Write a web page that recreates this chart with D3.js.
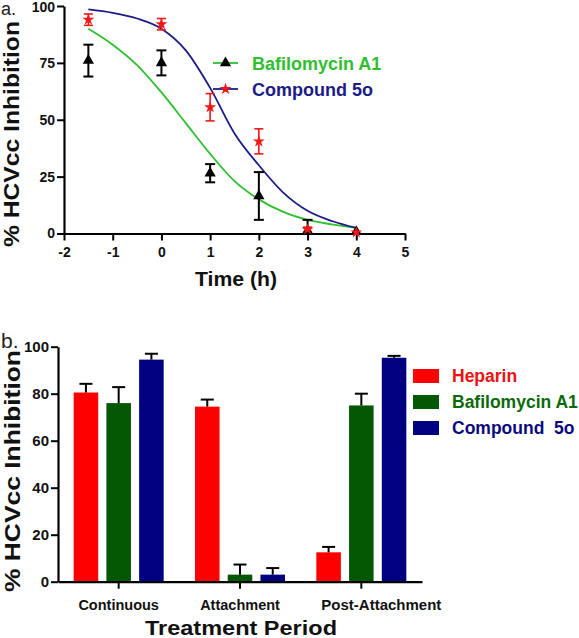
<!DOCTYPE html>
<html><head><meta charset="utf-8">
<script src="https://cdn.jsdelivr.net/npm/d3@7"></script>
<style>body{margin:0;background:#fff}svg{display:block}text{font-family:"Liberation Sans",Arial,sans-serif}</style>
</head><body><svg id="c" width="579" height="638"></svg>
<script>
// Panel a data
const timeTicks = [-2,-1,0,1,2,3,4,5];
const yTicksA = [0,25,50,75,100];
const bafTime = [-1.5,0,1,2,3,4];
const bafMean = [76,75,26.5,16.5,1,0.8];
const bafErr  = [7,5.5,4,10.5,5,0];
const cmpTime = [-1.5,0,1,2,3,4];
const cmpMean = [94,92,55.5,40.5,1.8,0.5];
const cmpErr  = [2.5,2.5,6,5.5,1,0];
const curveX = [-1.5,-1,-0.5,0,0.5,1,1.5,2,2.5,3,3.5,4];
const bafCurve = [90,83,74,62,48.5,35,23,15,9.5,6,4,2.5];
const cmpCurve = [98.5,97,94.5,90,80.5,64,44,30,18,10,5.5,2.5];
// Panel b data
const periods = ["Continuous","Attachment","Post-Attachment"];
const treatments = ["Heparin","Bafilomycin A1","Compound  5o"];
const heparinVals = [80.5,74.5,12.5];
const bafVals = [76,3,75];
const cmpVals = [94.5,3,95.3];
const heparinErr = [3.7,3,2.3];
const bafErr2 = [6.8,4.3,5];
const cmpErr2 = [2.5,2.8,0.8];
const yTicksB = [0,20,40,60,80,100];

const svg = d3.select("#c");
const FONT = '"Liberation Sans",Arial,sans-serif';

// ---------- Panel a ----------
const xa = d3.scaleLinear().domain([-2,5]).range([64,405]);
const ya = d3.scaleLinear().domain([0,100]).range([233.5,6]);
const ga = svg.append("g");
ga.append("g").attr("transform","translate(0,233.5)")
  .call(d3.axisBottom(xa).tickValues(timeTicks).tickFormat(d=>String(d)).tickSize(7).tickSizeOuter(0).tickPadding(7))
  .call(g=>{g.select(".domain").attr("stroke","#000").attr("stroke-width",2.2);
    g.selectAll("line").attr("stroke-width",2);
    g.selectAll("text").attr("font-size",14).attr("font-weight","bold").attr("font-family",FONT).attr("fill","#111");});
ga.append("g").attr("transform","translate(64,0)")
  .call(d3.axisLeft(ya).tickValues(yTicksA).tickFormat(d=>String(d)).tickSize(7).tickSizeOuter(0).tickPadding(2))
  .call(g=>{g.select(".domain").attr("stroke","#000").attr("stroke-width",2.2);
    g.selectAll("line").attr("stroke-width",2);
    g.selectAll("text").attr("font-size",14).attr("font-weight","bold").attr("font-family",FONT).attr("fill","#111")
      .filter(d=>d===100).attr("dy","0.4em");});

const line = d3.line().curve(d3.curveMonotoneX);
const green = "#2ec02e", navy = "#1c1c86";
ga.append("path").attr("d",line(curveX.map((x,i)=>[xa(x),ya(bafCurve[i])]))).attr("fill","none").attr("stroke",green).attr("stroke-width",1.8);
ga.append("path").attr("d",line(curveX.map((x,i)=>[xa(x),ya(cmpCurve[i])]))).attr("fill","none").attr("stroke",navy).attr("stroke-width",1.8);

function errBars(g, xs, ms, es, color, w, cap){
  xs.forEach((x,i)=>{
    if(es[i]<=0) return;
    const cx=xa(x), t=ya(ms[i]+es[i]), b=ya(Math.max(0,ms[i]-es[i]));
    g.append("line").attr("x1",cx).attr("x2",cx).attr("y1",t).attr("y2",b).attr("stroke",color).attr("stroke-width",w);
    g.append("line").attr("x1",cx-cap).attr("x2",cx+cap).attr("y1",t).attr("y2",t).attr("stroke",color).attr("stroke-width",w);
    g.append("line").attr("x1",cx-cap).attr("x2",cx+cap).attr("y1",b).attr("y2",b).attr("stroke",color).attr("stroke-width",w);
  });
}
errBars(ga,bafTime,bafMean,bafErr,"#000",2,5);
errBars(ga,cmpTime,cmpMean,cmpErr,"#f01818",1.6,4.5);
const tri = d3.symbol().type(d3.symbolTriangle).size(55);
const star = d3.symbol().type(d3.symbolStar).size(45);
bafTime.forEach((x,i)=>ga.append("path").attr("d",tri()).attr("transform",`translate(${xa(x)},${ya(bafMean[i])})`).attr("fill","#000"));
cmpTime.forEach((x,i)=>ga.append("path").attr("d",star()).attr("transform",`translate(${xa(x)},${ya(cmpMean[i])})`).attr("fill","#f01818"));

ga.append("text").attr("x",236).attr("y",286).attr("text-anchor","middle").attr("font-size",21).attr("font-weight","bold").attr("fill","#111")
  .attr("textLength",82).attr("lengthAdjust","spacingAndGlyphs").text("Time (h)");
ga.append("text").attr("transform","translate(19,134) rotate(-90)").attr("text-anchor","middle").attr("font-size",22).attr("font-weight","bold").attr("fill","#111")
  .attr("textLength",226).attr("lengthAdjust","spacingAndGlyphs").text("% HCVcc Inhibition");
ga.append("text").attr("x",1).attr("y",15).attr("font-size",18).attr("fill","#222").text("a.");

// legend a
const legA = [{name:"Bafilomycin A1", line:green, text:green, sym:tri, fill:"#000"},{name:"Compound 5o", line:navy, text:navy, sym:star, fill:"#f01818"}];
legA.forEach((d,i)=>{
  const y=63+i*26;
  ga.append("line").attr("x1",213).attr("x2",238).attr("y1",y).attr("y2",y).attr("stroke",d.line).attr("stroke-width",1.8);
  ga.append("path").attr("d",d.sym()).attr("transform",`translate(225.5,${y})`).attr("fill",d.fill);
  ga.append("text").attr("x",252).attr("y",y+6.5).attr("font-size",18).attr("font-weight","bold").attr("fill",d.text).text(d.name);
});

// ---------- Panel b ----------
const xb = d3.scaleBand().domain(periods).range([58,422]);
const yb = d3.scaleLinear().domain([0,100]).range([581.7,346.7]);
const xs = d3.scaleBand().domain(treatments).range([-45,45]).paddingInner(0.25);
const gb = svg.append("g");
const barColors = ["#ff0000","#045804","#000080"];
const textColors = ["#ee1111","#0a6a0a","#0a0a80"];
const series = [heparinVals,bafVals,cmpVals];
const errs = [heparinErr,bafErr2,cmpErr2];
series.forEach((vals,s)=>{
  periods.forEach((p,i)=>{
    const cx = xb(p)+xb.bandwidth()/2;
    const x0 = cx + xs(treatments[s]);
    const w = xs.bandwidth();
    gb.append("rect").attr("x",x0).attr("y",yb(vals[i])).attr("width",w).attr("height",yb(0)-yb(vals[i])).attr("fill",barColors[s]);
    const bx = x0+w/2, t = yb(vals[i]+errs[s][i]);
    gb.append("line").attr("x1",bx).attr("x2",bx).attr("y1",yb(vals[i])).attr("y2",t).attr("stroke","#000").attr("stroke-width",2);
    gb.append("line").attr("x1",bx-6.5).attr("x2",bx+6.5).attr("y1",t).attr("y2",t).attr("stroke","#000").attr("stroke-width",2);
  });
});
gb.append("g").attr("transform","translate(0,581.7)")
  .call(d3.axisBottom(xb).tickSize(7).tickSizeOuter(0).tickPadding(11))
  .call(g=>{g.select(".domain").attr("stroke","#000").attr("stroke-width",2.2);
    g.selectAll("line").attr("stroke-width",2);
    g.selectAll("text").attr("font-size",14.5).attr("font-weight","bold").attr("font-family",FONT).attr("fill","#111");
    g.selectAll("text").filter(d=>d==="Post-Attachment").attr("dx",20).attr("textLength",120).attr("lengthAdjust","spacingAndGlyphs");});
gb.append("g").attr("transform","translate(58,0)")
  .call(d3.axisLeft(yb).tickValues(yTicksB).tickSize(7).tickSizeOuter(0).tickPadding(2))
  .call(g=>{g.select(".domain").attr("stroke","#000").attr("stroke-width",2.2);
    g.selectAll("line").attr("stroke-width",2);
    g.selectAll("text").attr("font-size",15).attr("font-weight","bold").attr("font-family",FONT).attr("fill","#111");});
gb.append("text").attr("x",241).attr("y",635).attr("text-anchor","middle").attr("font-size",21).attr("font-weight","bold").attr("fill","#111")
  .attr("textLength",192).attr("lengthAdjust","spacingAndGlyphs").text("Treatment Period");
gb.append("text").attr("transform","translate(19.5,471) rotate(-90)").attr("text-anchor","middle").attr("font-size",22).attr("font-weight","bold").attr("fill","#111")
  .attr("textLength",242).attr("lengthAdjust","spacingAndGlyphs").text("% HCVcc Inhibition");
gb.append("text").attr("x",1).attr("y",348).attr("font-size",21).attr("fill","#222").text("b.");
treatments.forEach((t,i)=>{
  const y=369+i*26;
  gb.append("rect").attr("x",413).attr("y",y).attr("width",26).attr("height",14).attr("fill",barColors[i]);
  gb.append("text").attr("x",452).attr("y",y+13).attr("font-size",17.5).attr("font-weight","bold").attr("fill",textColors[i]).attr("xml:space","preserve").style("white-space","pre").text(t);
});
</script></body></html>
